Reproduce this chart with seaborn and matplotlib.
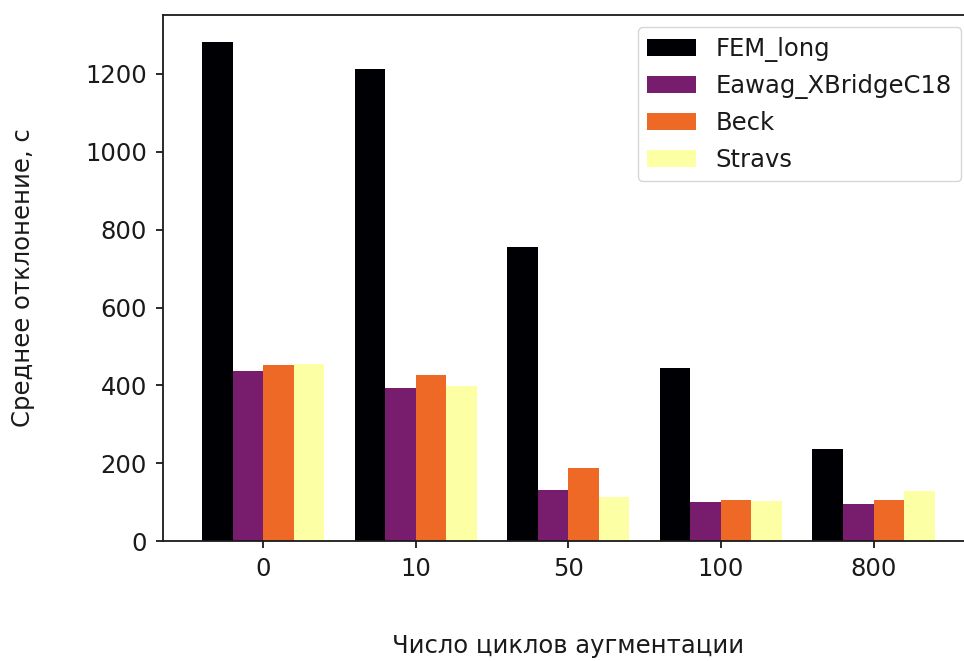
import matplotlib
matplotlib.use("Agg")
import matplotlib.pyplot as plt
import numpy as np
import pandas as pd
import seaborn as sns

cycles = ["0", "10", "50", "100", "800"]
datasets = ["FEM_long", "Eawag_XBridgeC18", "Beck", "Stravs"]
fem_long = [1283, 1212, 755, 444, 237]
eawag = [437, 394, 131, 99, 95]
beck = [452, 426, 188, 105, 105]
stravs = [456, 399, 112, 103, 128]

values = [fem_long, eawag, beck, stravs]
df = pd.DataFrame(
    [(c, d, v) for d, vals in zip(datasets, values) for c, v in zip(cycles, vals)],
    columns=["cycles", "dataset", "error"],
)

sns.set_style("ticks")
plt.rcParams["font.family"] = ["DejaVu Sans"]
plt.rcParams["font.size"] = 17.5
ink = "#1a1a1a"
plt.rcParams.update({
    "text.color": ink, "axes.labelcolor": ink,
    "xtick.color": ink, "ytick.color": ink, "axes.edgecolor": ink,
})

palette = [matplotlib.colormaps["inferno"](x) for x in np.linspace(0, 1, 4)]

fig = plt.figure(figsize=(9.64, 6.61), dpi=100)
ax = fig.add_axes([0.169, 0.1815, 0.841, 0.7955])

sns.barplot(data=df, x="cycles", y="error", hue="dataset", order=cycles,
            hue_order=datasets, palette=palette, saturation=1, width=0.8,
            linewidth=0, ax=ax)

ax.set_xlim(-0.656, 4.656)
ax.set_ylim(0, 1351)
ax.set_yticks(range(0, 1201, 200))
ax.tick_params(labelsize=17.5, length=5, width=1.3, pad=6.5)
for s in ax.spines.values():
    s.set_linewidth(1.3)
ax.set_xlabel("Число циклов аугментации", fontsize=17.5, labelpad=38)
ax.set_ylabel("Среднее отклонение, с", fontsize=17.5, labelpad=36)

leg = ax.legend(loc="upper right", fontsize=17.5, frameon=True)
leg.set_title(None)

fig.savefig("out.png", dpi=100)
